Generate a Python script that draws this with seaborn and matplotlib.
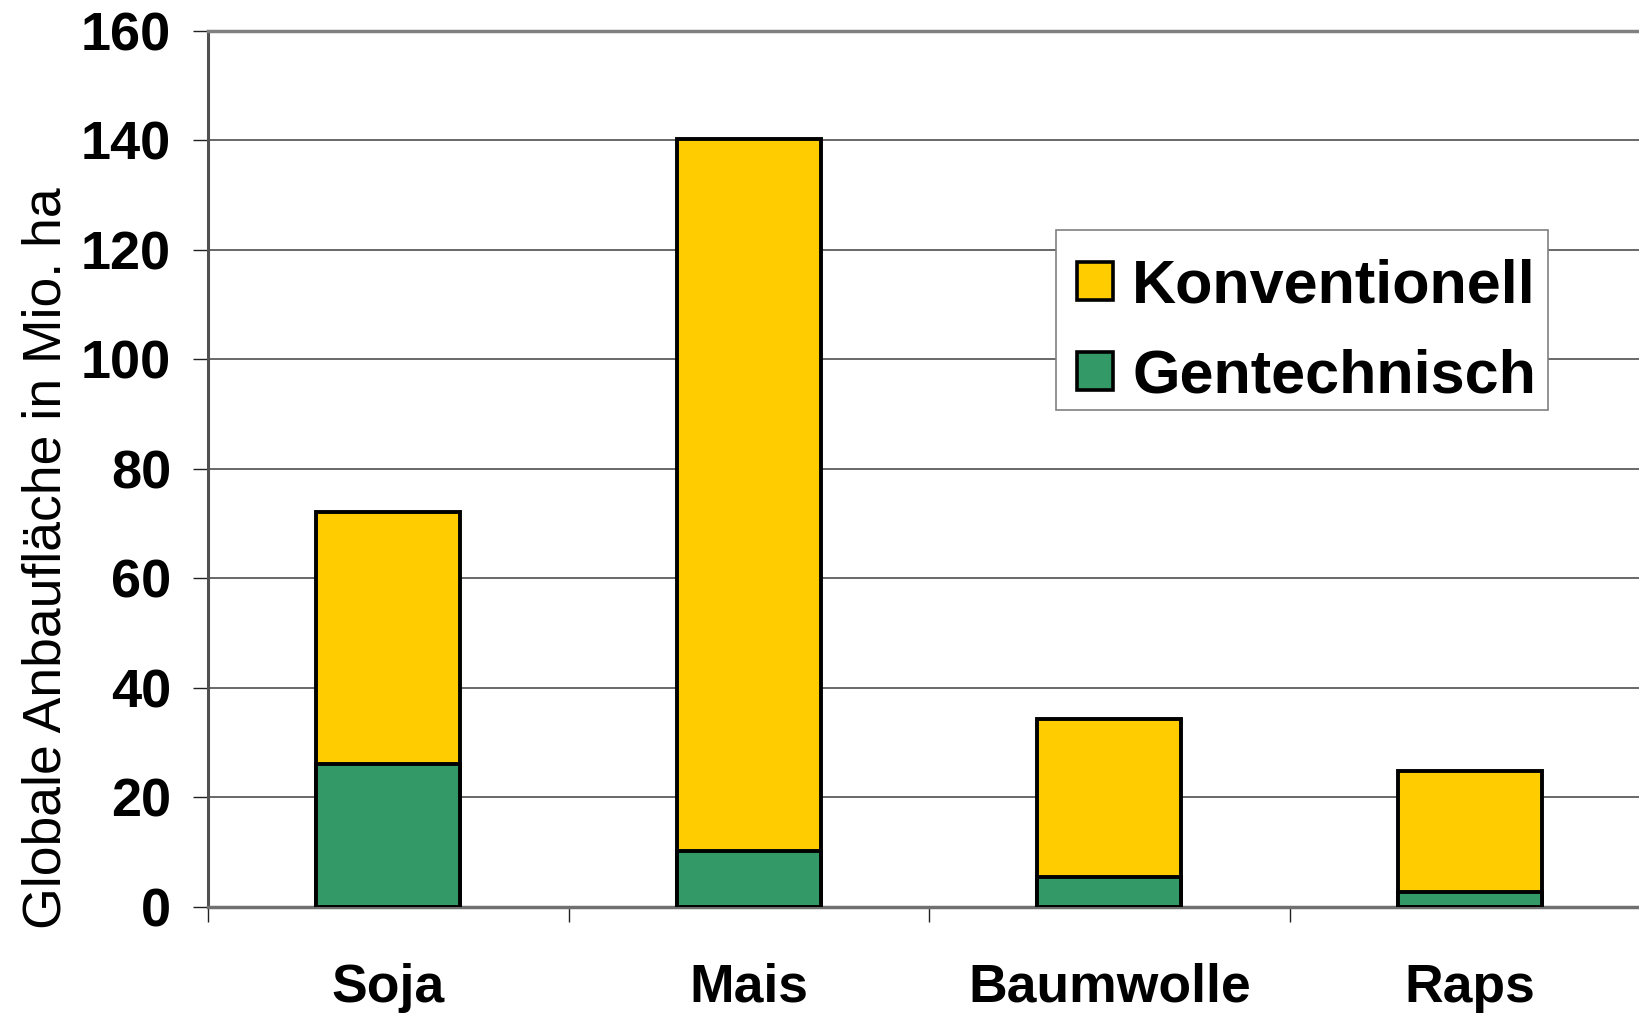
import matplotlib
matplotlib.use("Agg")
import matplotlib.pyplot as plt
import seaborn as sns
import pandas as pd
from matplotlib.patches import Patch, Rectangle

categories = ["Soja", "Mais", "Baumwolle", "Raps"]
gentechnisch = [26.1, 10.3, 5.5, 2.7]
konventionell = [46.0, 129.9, 28.8, 22.2]
yticks = [0, 20, 40, 60, 80, 100, 120, 140, 160]

df = pd.DataFrame({"Kultur": categories,
                   "Gentechnisch": gentechnisch,
                   "Konventionell": konventionell})
df["Gesamt"] = df["Gentechnisch"] + df["Konventionell"]

sns.set_theme(style="white")
plt.rcParams["font.family"] = ["Liberation Sans", "DejaVu Sans"]
plt.rcParams["text.color"] = "black"
plt.rcParams["axes.labelcolor"] = "black"
plt.rcParams["xtick.color"] = "black"
plt.rcParams["ytick.color"] = "black"

YELLOW = "#FFCC00"
GREEN = "#339966"

W, H = 1639, 1013
fig = plt.figure(figsize=(W / 100, H / 100), dpi=100)
ax = fig.add_axes([208 / W, 1 - 907 / H, 1442 / W, (907 - 30.5) / H])

sns.barplot(data=df, x="Kultur", y="Gesamt", color=YELLOW, width=0.4,
            edgecolor="black", linewidth=2.8, saturation=1, ax=ax, zorder=3)
sns.barplot(data=df, x="Kultur", y="Gentechnisch", color=GREEN, width=0.4,
            edgecolor="black", linewidth=2.8, saturation=1, ax=ax, zorder=4)

ax.set_xlim(-0.5, 3.5)
ax.set_ylim(0, 160)
ax.set_yticks(yticks)
ax.set_yticklabels([str(v) for v in yticks], fontsize=39, fontweight="bold",
                   color="black")
ax.yaxis.grid(True, color="#404040", linewidth=1.1, zorder=0)
ax.set_axisbelow(True)

ax.set_xlabel("")
ax.set_xticks(range(len(categories)))
ax.set_xticklabels(categories, fontsize=38.5, fontweight="bold", color="black")
ax.set_xticks([-0.5, 0.5, 1.5, 2.5, 3.5], minor=True)
ax.tick_params(axis="x", which="major", length=0, pad=40)
ax.tick_params(axis="x", which="minor", length=11, width=1.0, color="#202020",
               direction="out", bottom=True)
ax.tick_params(axis="y", which="major", length=11, width=1.0, color="#202020",
               direction="out", left=True, pad=15.5)

ax.set_ylabel("Globale Anbaufläche in Mio. ha", fontsize=38.5, color="black")
ax.yaxis.set_label_coords(-0.095, 0.398)

ax.spines["top"].set_visible(True)
ax.spines["top"].set_color("#808080")
ax.spines["top"].set_linewidth(2.5)
ax.spines["right"].set_visible(False)
ax.spines["left"].set_color("#505050")
ax.spines["left"].set_linewidth(2.2)
ax.spines["bottom"].set_color("#707070")
ax.spines["bottom"].set_linewidth(2.5)

# legend frame
frame = Rectangle((1056 / W, 1 - 410 / H), (1548 - 1056) / W, (410 - 230) / H,
                  transform=fig.transFigure, facecolor="white", edgecolor="#808080",
                  linewidth=1.2, zorder=5)
fig.patches.append(frame)

handles = [Patch(facecolor=YELLOW, edgecolor="black", linewidth=2.6, label="Konventionell"),
           Patch(facecolor=GREEN, edgecolor="black", linewidth=2.6, label="Gentechnisch")]
leg = fig.legend(handles=handles, loc="upper left",
                 bbox_to_anchor=(1059 / W, 1 - 240 / H),
                 prop={"family": "Liberation Sans", "weight": "bold", "size": 44},
                 frameon=False,
                 handlelength=0.58, handleheight=0.58, handletextpad=0.32,
                 labelspacing=0.55, borderpad=0.3, borderaxespad=0)
leg.set_zorder(6)
for t in leg.get_texts():
    t.set_color("black")

fig.savefig("out.png", dpi=100)
